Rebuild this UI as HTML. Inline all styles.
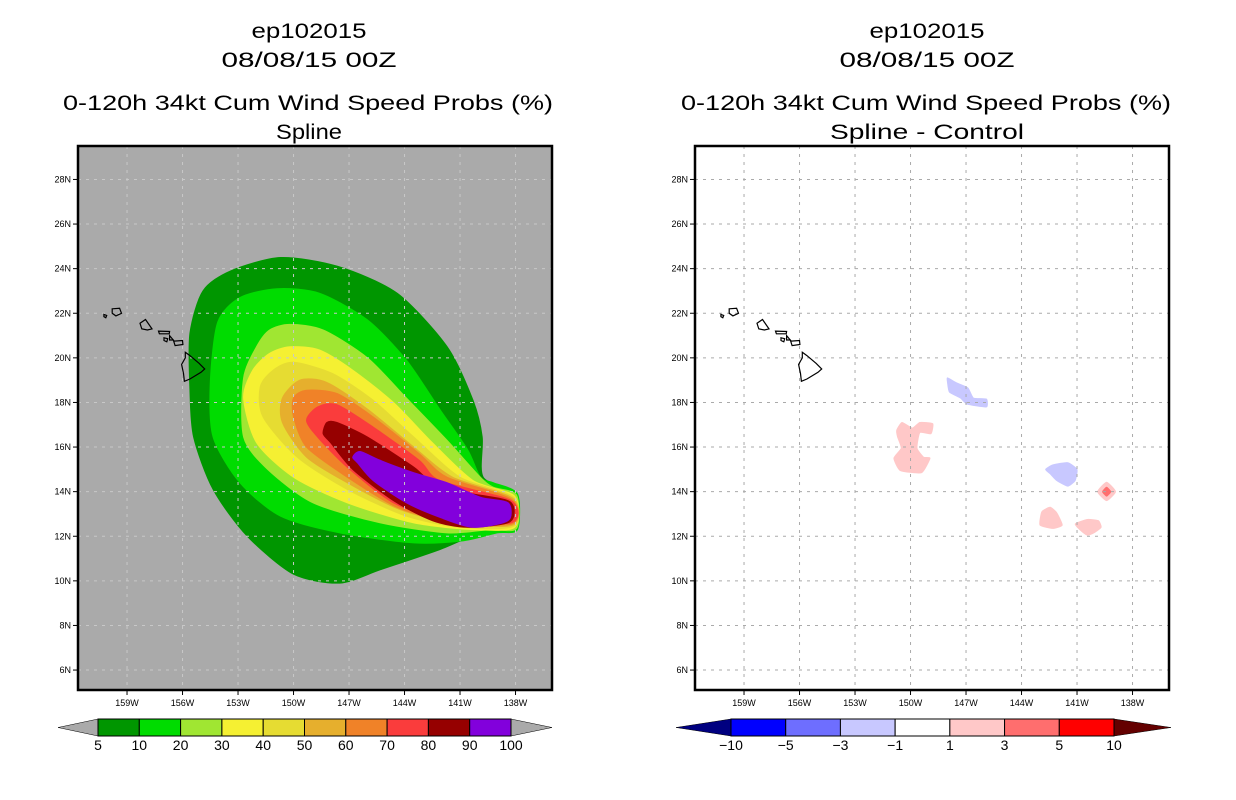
<!DOCTYPE html>
<html><head><meta charset="utf-8"><style>
html,body{margin:0;padding:0;background:#fff;}
svg{display:block;}
text{font-family:"Liberation Sans",sans-serif;fill:#000;}
</style></head><body>
<svg id="chart" width="1236" height="800" viewBox="0 0 1236 800" xmlns="http://www.w3.org/2000/svg">
  <g font-size="21">
    <text x="309" y="38" text-anchor="middle" textLength="115" lengthAdjust="spacingAndGlyphs">ep102015</text>
    <text x="309" y="67" text-anchor="middle" textLength="175" lengthAdjust="spacingAndGlyphs">08/08/15 00Z</text>
    <text x="308" y="110" text-anchor="middle" textLength="490" lengthAdjust="spacingAndGlyphs">0-120h 34kt Cum Wind Speed Probs (%)</text>
    <text x="309" y="139" text-anchor="middle" textLength="66" lengthAdjust="spacingAndGlyphs">Spline</text>
  </g>
  <g font-size="21">
    <text x="927" y="38" text-anchor="middle" textLength="115" lengthAdjust="spacingAndGlyphs">ep102015</text>
    <text x="927" y="67" text-anchor="middle" textLength="175" lengthAdjust="spacingAndGlyphs">08/08/15 00Z</text>
    <text x="926" y="110" text-anchor="middle" textLength="490" lengthAdjust="spacingAndGlyphs">0-120h 34kt Cum Wind Speed Probs (%)</text>
    <text x="927" y="139" text-anchor="middle" textLength="194" lengthAdjust="spacingAndGlyphs">Spline - Control</text>
  </g>
  <g id="leftPanel"></g>
  <g id="rightPanel"></g>
  <g id="leftBar"></g>
  <g id="rightBar"></g>
</svg>
<script>
// ---- data ----
const latTicks = [28,26,24,22,20,18,16,14,12,10,8,6];
const lonTicks = [159,156,153,150,147,144,141,138];
const probLevels = [5,10,20,30,40,50,60,70,80,90,100];
const probColors = ["#009600","#00dc00","#a0e632","#f5f032","#e6dc32","#e6af2d","#f08228","#fa3c3c","#960000","#8200dc"];
const diffLevels = ["-10","-5","-3","-1","1","3","5","10"];
const diffColors = ["#0000ff","#6e6eff","#c8c8ff","#ffffff","#ffc8c8","#ff6e6e","#ff0000"];
// contour polygons [lonW, lat]
const c5  = [[150.7,24.5],[147.6,24.1],[144.4,22.9],[141.7,20.5],[140.3,18.1],[139.8,16.45],[139.75,14.65],[138.0,13.9],[138.0,12.3],[139.9,12.15],[142.1,11.4],[145.3,10.5],[147.5,9.9],[150.0,10.3],[152.5,12.0],[154.35,14.1],[155.4,16.45],[155.6,18.6],[155.6,21.1],[154.9,23.0],[153.4,23.9]];
const c10 = [[150.9,23.1],[148.6,22.9],[146.0,21.7],[143.9,19.9],[142.1,17.7],[140.6,15.9],[139.9,14.65],[139.2,14.4],[137.9,13.9],[137.9,12.3],[139.0,12.15],[140.8,11.8],[143.5,11.7],[147.5,12.15],[150.7,12.9],[152.9,14.4],[154.35,16.45],[154.5,18.9],[154.1,21.6],[152.9,22.7]];
const c20 = [[150.2,21.5],[148.4,21.25],[146.0,20.0],[143.9,18.2],[141.7,16.3],[139.9,14.65],[139.2,14.2],[137.95,13.85],[137.95,12.35],[139.4,12.3],[141.7,12.15],[145.3,12.6],[148.95,13.5],[151.4,15.0],[152.7,16.45],[152.7,19.1],[152.0,20.5],[151.3,21.25]];
const c30 = [[150.2,20.5],[148.6,20.35],[146.8,19.45],[144.6,18.0],[142.5,16.2],[140.3,14.5],[138.05,13.8],[138.05,12.4],[140.3,12.3],[143.5,12.6],[147.1,13.5],[150.0,14.65],[152.0,16.2],[152.7,18.2],[152.2,19.45],[151.3,20.2]];
const c40 = [[150.0,19.8],[147.9,19.3],[145.7,18.1],[143.5,16.45],[141.0,14.65],[138.1,13.75],[138.1,12.45],[141.0,12.4],[143.9,12.9],[147.1,14.1],[149.8,15.55],[151.65,17.35],[151.8,18.7],[151.1,19.45]];
const c50 = [[149.65,19.0],[148.2,18.9],[146.0,17.7],[143.5,16.0],[141.4,14.65],[138.15,13.7],[138.15,12.5],[141.4,12.6],[144.25,13.2],[147.1,14.4],[149.3,15.55],[150.6,17.1],[150.6,18.2]];
const c60 = [[149.3,18.55],[147.65,18.4],[145.7,17.35],[143.2,15.7],[141.7,14.65],[138.2,13.65],[138.2,12.55],[141.7,12.7],[144.4,13.3],[147.1,14.65],[149.3,16.0],[150.0,17.35],[150.0,18.2]];
const c70 = [[148.7,17.8],[147.65,17.9],[145.7,16.9],[143.2,15.4],[142.1,14.5],[138.25,13.6],[138.25,12.6],[142.1,12.85],[144.6,13.5],[147.1,15.1],[148.7,16.45],[149.3,17.2]];
const c80 = [[148.2,17.1],[147.65,17.1],[146.0,16.45],[143.5,15.1],[142.5,14.4],[140.6,13.95],[138.3,13.55],[138.3,12.65],[140.6,12.4],[142.5,12.7],[144.6,13.6],[146.8,15.0],[148.0,16.2],[148.4,16.6]];
const c90 = [[146.8,15.55],[146.4,15.8],[145.3,15.4],[143.5,14.85],[141.7,14.4],[139.9,13.75],[138.4,13.5],[138.4,12.7],[140.3,12.4],[142.1,12.85],[143.9,13.5],[145.7,14.5],[146.55,15.3]];
const probContours = [c5,c10,c20,c30,c40,c50,c60,c70,c80,c90];
// difference blobs
const diffBlue1 = [[148.0,19.1],[147.5,18.87],[146.9,18.65],[146.6,18.2],[145.9,18.15],[145.9,17.8],[146.95,17.93],[147.3,18.2],[147.9,18.47],[148.0,18.9]];
const diffBlue2 = [[142.7,15.0],[142.3,15.2],[141.5,15.3],[141.0,15.0],[141.1,14.5],[141.5,14.25],[142.1,14.5],[142.45,14.8]];
const diffPink1 = [[150.46,17.1],[149.9,16.85],[149.5,17.1],[148.8,17.05],[148.9,16.6],[149.5,16.65],[149.65,15.95],[149.3,15.55],[148.95,15.5],[149.4,14.85],[150.55,14.95],[150.9,15.5],[150.5,15.95],[150.7,16.45],[150.75,16.75]];
const diffPink2 = [[142.9,13.1],[142.45,13.3],[142.1,13.05],[141.8,12.5],[142.3,12.35],[143.0,12.5]];
const diffPink3 = [[141.1,12.55],[140.45,12.75],[139.85,12.7],[139.7,12.4],[140.1,12.15],[140.45,12.05],[140.85,12.3]];
const diffPink4 = [[139.4,14.42],[138.92,14.0],[139.4,13.6],[139.88,14.0]];
const diffRed1  = [[139.4,14.2],[139.18,14.0],[139.4,13.8],[139.62,14.0]];
const diffBlobs = [[diffBlue1,"#c8c8ff"],[diffBlue2,"#c8c8ff"],[diffPink1,"#ffc8c8"],[diffPink2,"#ffc8c8"],[diffPink3,"#ffc8c8"],[diffPink4,"#ffc8c8"],[diffRed1,"#ff6e6e"]];
// islands
const bigIsland = [[155.85,20.25],[155.6,20.1],[155.1,19.75],[154.8,19.5],[155.0,19.35],[155.6,19.05],[155.9,18.95],[155.95,19.3],[156.05,19.7],[155.85,20.0]];
const maui = [[156.7,21.0],[156.45,20.75],[156.0,20.78],[155.98,20.6],[156.4,20.55],[156.5,20.8],[156.7,20.8]];
const molokai = [[157.3,21.2],[156.7,21.18],[156.72,21.08],[157.25,21.08]];
const lanai = [[157.0,20.9],[156.8,20.86],[156.85,20.72],[157.0,20.78]];
const oahu = [[158.3,21.55],[158.0,21.72],[157.65,21.3],[157.9,21.25],[158.2,21.3]];
const kauai = [[159.8,22.2],[159.4,22.22],[159.3,22.0],[159.6,21.88],[159.8,22.0]];
const niihau = [[160.25,21.95],[160.1,21.9],[160.15,21.8],[160.25,21.85]];
const islands = [bigIsland,maui,molokai,lanai,oahu,kauai,niihau];

const NS="http://www.w3.org/2000/svg";
function mk(tag, attrs, parent){const e=document.createElementNS(NS,tag);for(const k in attrs)e.setAttribute(k,attrs[k]);parent.appendChild(e);return e;}
function makeAxes(x0){
  const W=474, top=146, H=544;
  return {x0:x0, top:top, W:W, H:H,
    x: lon => x0 + (161.65 - lon) * 18.5,
    y: lat => top + (29.5 - lat) * 22.3};
}
function pts(poly, ax){return poly.map(p=>ax.x(p[0]).toFixed(1)+","+ax.y(p[1]).toFixed(1)).join(" ");}
function smoothPath(poly, ax, t){
  const P=poly.map(p=>[ax.x(p[0]),ax.y(p[1])]);const n=P.length;
  let d="M"+P[0][0].toFixed(1)+","+P[0][1].toFixed(1);
  for(let i=0;i<n;i++){
    const p0=P[(i-1+n)%n],p1=P[i],p2=P[(i+1)%n],p3=P[(i+2)%n];
    const c1=[p1[0]+(p2[0]-p0[0])*t/6,p1[1]+(p2[1]-p0[1])*t/6];
    const c2=[p2[0]-(p3[0]-p1[0])*t/6,p2[1]-(p3[1]-p1[1])*t/6];
    d+=" C"+c1.map(v=>v.toFixed(1)).join(",")+" "+c2.map(v=>v.toFixed(1)).join(",")+" "+p2[0].toFixed(1)+","+p2[1].toFixed(1);
  }
  return d+"Z";
}

function drawPanel(g, ax, bg, name){
  const clipId = "clip-"+name;
  const cp = mk("clipPath",{id:clipId},g);
  mk("rect",{x:ax.x0,y:ax.top,width:ax.W,height:ax.H},cp);
  const bgR = mk("rect",{x:ax.x0,y:ax.top,width:ax.W,height:ax.H,fill:bg},g);
  
  
  const body = mk("g",{"clip-path":"url(#"+clipId+")"},g);
  return body;
}
function drawGridAndAxes(g, body, ax, gridCol, name){
  latTicks.forEach(lat=>{
    const y=ax.y(lat);
    const l=mk("line",{x1:ax.x0,x2:ax.x0+ax.W,y1:y,y2:y,stroke:gridCol,"stroke-width":1,"stroke-dasharray":"3,5"},body);
    
    
    mk("line",{x1:ax.x0-5,x2:ax.x0,y1:y,y2:y,stroke:"#000","stroke-width":1},g);
    const t=mk("text",{x:ax.x0-7,y:y+3,"font-size":9,"text-anchor":"end"},g);
    t.textContent=lat+"N";
    
    
  });
  lonTicks.forEach(lon=>{
    const x=ax.x(lon);
    const l=mk("line",{x1:x,x2:x,y1:ax.top,y2:ax.top+ax.H,stroke:gridCol,"stroke-width":1,"stroke-dasharray":"3,5"},body);
    
    
    mk("line",{x1:x,x2:x,y1:ax.top+ax.H,y2:ax.top+ax.H+5,stroke:"#000","stroke-width":1},g);
    const t=mk("text",{x:x,y:ax.top+ax.H+16,"font-size":9,"text-anchor":"middle"},g);
    t.textContent=lon+"W";
    
    
  });
  islands.forEach(isl=>{
    const p=mk("polygon",{points:pts(isl,ax),fill:"none",stroke:"#000","stroke-width":1.2},body);
    
    
  });
  const fr=mk("rect",{x:ax.x0,y:ax.top,width:ax.W,height:ax.H,fill:"none",stroke:"#000","stroke-width":2.5},g);
  
  
}

// left panel
const gL=document.getElementById("leftPanel");
const axL=makeAxes(78);
const bodyL=drawPanel(gL,axL,"#aaaaaa","left");
probContours.forEach((poly,i)=>{
  const p=mk("path",{d:smoothPath(poly,axL,0.8),fill:probColors[i],"stroke":probColors[i],"stroke-width":1,"stroke-linejoin":"round"},bodyL);
  
  
});
drawGridAndAxes(gL,bodyL,axL,"#c8c8c8","left");

// right panel
const gR=document.getElementById("rightPanel");
const axR=makeAxes(695);
const bodyR=drawPanel(gR,axR,"#ffffff","right");
diffBlobs.forEach(b=>{
  const p=mk("path",{d:smoothPath(b[0],axR,0.5),fill:b[1],stroke:b[1],"stroke-width":1,"stroke-linejoin":"round"},bodyR);
  
  
});
drawGridAndAxes(gR,bodyR,axR,"#aaaaaa","right");

// colorbars
function colorbar(g, x0, x1, tipL, tipR, colors, labels, triL, triR, name){
  const y0=719, h=17, n=colors.length, w=(x1-x0)/n;
  const tl=mk("polygon",{points:`${tipL},${y0+h/2} ${x0},${y0} ${x0},${y0+h}`,fill:triL,stroke:"#000","stroke-width":0.5},g);
  
  
  const tr=mk("polygon",{points:`${tipR},${y0+h/2} ${x1},${y0} ${x1},${y0+h}`,fill:triR,stroke:"#000","stroke-width":0.5},g);
  
  
  colors.forEach((c,i)=>{
    const r=mk("rect",{x:x0+i*w,y:y0,width:w,height:h,fill:c,stroke:"#000","stroke-width":1},g);
    
    
  });
  labels.forEach((lb,i)=>{
    const t=mk("text",{x:x0+i*w,y:y0+h+14,"font-size":14,"text-anchor":"middle"},g);
    t.textContent=lb;
    
    
  });
}
colorbar(document.getElementById("leftBar"),98,511,58,552,probColors,probLevels.map(String),"#aaaaaa","#aaaaaa","prob-colorbar");
colorbar(document.getElementById("rightBar"),731,1114,676,1171,diffColors,diffLevels.map(s=>s.replace("-","\u2212")),"#000080","#640000","diff-colorbar");
</script>
</body></html>
